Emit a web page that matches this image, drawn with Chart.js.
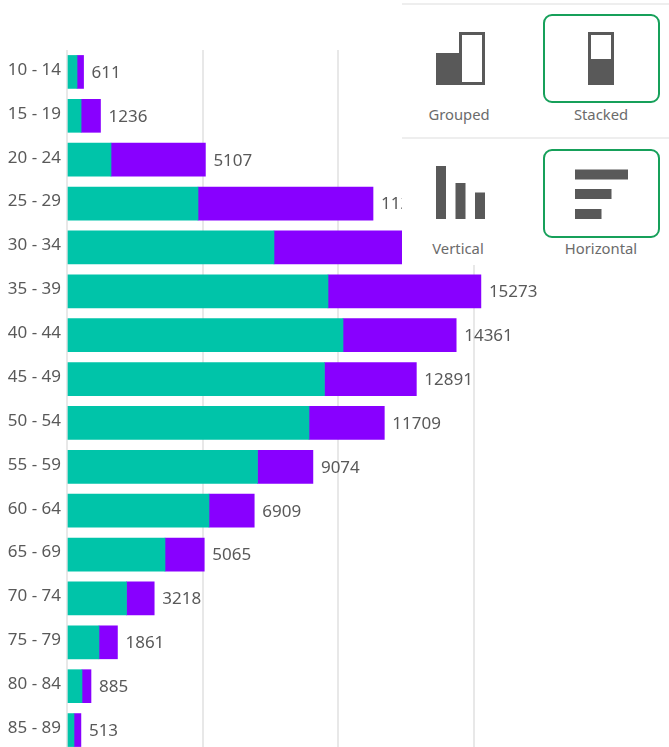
<!DOCTYPE html>
<html>
<head>
<meta charset="utf-8">
<script src="https://cdn.jsdelivr.net/npm/chart.js@4"></script>
<style>
  html, body { margin: 0; padding: 0; background: #fff; overflow: hidden; width: 669px; height: 747px; }
  #wrap { position: relative; width: 669px; height: 747px; overflow: hidden; }
  #bargraph { position: absolute; left: 0; top: 0; }
  #panel { position: absolute; left: 402px; top: 0; width: 267px; height: 265px; background: #fff; }
  #panel svg { position: absolute; left: 0; top: 0; }
  #panel text { font-family: "Noto Sans", sans-serif; font-size: 14.8px; fill: #6b6b6b; text-anchor: middle; }
</style>
</head>
<body>
<div id="wrap">
  <canvas id="bargraph" width="669" height="770"></canvas>
  <div id="panel">
    <svg width="267" height="265" viewBox="402 0 267 265">
      <rect x="402" y="3" width="267" height="2" fill="#eeeeee"/>
      <rect x="402" y="137" width="267" height="2" fill="#eeeeee"/>
      <rect x="544" y="15" width="115" height="87" rx="8" fill="none" stroke="#16a05a" stroke-width="2"/>
      <rect x="544" y="150" width="115" height="87" rx="8" fill="none" stroke="#16a05a" stroke-width="2"/>
      <!-- grouped -->
      <rect x="436" y="53" width="26" height="32" fill="#595959"/>
      <rect x="460.5" y="33.5" width="23" height="50" fill="none" stroke="#595959" stroke-width="3"/>
      <text x="459" y="120">Grouped</text>
      <!-- stacked -->
      <rect x="589.5" y="33.5" width="23" height="50" fill="none" stroke="#595959" stroke-width="3"/>
      <rect x="588" y="59" width="26" height="26" fill="#595959"/>
      <text x="601" y="120">Stacked</text>
      <!-- vertical -->
      <rect x="436" y="166" width="10" height="53" fill="#595959"/>
      <rect x="455.5" y="183" width="10" height="36" fill="#595959"/>
      <rect x="475" y="192.5" width="10" height="26.5" fill="#595959"/>
      <text x="458" y="254">Vertical</text>
      <!-- horizontal -->
      <rect x="575" y="169.5" width="53" height="10" fill="#595959"/>
      <rect x="575" y="189" width="36.5" height="10" fill="#595959"/>
      <rect x="575" y="209" width="26.5" height="10" fill="#595959"/>
      <text x="601" y="254">Horizontal</text>
    </svg>
  </div>
</div>
<script>
var ageGroups = ["10 - 14", "15 - 19", "20 - 24", "25 - 29", "30 - 34", "35 - 39", "40 - 44", "45 - 49",
  "50 - 54", "55 - 59", "60 - 64", "65 - 69", "70 - 74", "75 - 79", "80 - 84", "85 - 89"];
var greenValues = [370, 520, 1624, 4834, 7638, 9631, 10185, 9500, 8930, 7030, 5240, 3616, 2196, 1180, 553, 258];
var purpleValues = [241, 716, 3483, 6458, 6262, 5642, 4176, 3391, 2779, 2044, 1669, 1449, 1022, 681, 332, 255];
var totals = [611, 1236, 5107, 11292, 13900, 15273, 14361, 12891, 11709, 9074, 6909, 5065, 3218, 1861, 885, 513];

var labelFont = '17px "Noto Sans", sans-serif';

// totals next to the end of each stack
var totalLabels = {
  id: 'totalLabels',
  afterDatasetsDraw: function (chart) {
    var ctx = chart.ctx;
    var bars = chart.getDatasetMeta(1).data;
    ctx.save();
    ctx.font = labelFont;
    ctx.fillStyle = '#595959';
    ctx.textAlign = 'left';
    ctx.textBaseline = 'middle';
    bars.forEach(function (bar, i) {
      ctx.fillText(totals[i], bar.x + 8, bar.y + 1);
    });
    ctx.restore();
  }
};

var ctx = document.getElementById('bargraph').getContext('2d');
window.myBar = new Chart(ctx, {
  type: 'bar',
  data: {
    labels: ageGroups,
    datasets: [{
      label: "Green",
      backgroundColor: '#00c4a9',
      data: greenValues
    }, {
      label: "Purple",
      backgroundColor: '#8800ff',
      data: purpleValues
    }]
  },
  plugins: [totalLabels],
  options: {
    indexAxis: 'y',
    responsive: false,
    animation: false,
    layout: { padding: { top: 50, right: 60, bottom: 18, left: 0 } },
    datasets: { bar: { barThickness: 33 } },
    plugins: {
      legend: { display: false },
      tooltip: { enabled: false }
    },
    scales: {
      x: {
        stacked: true,
        min: 0,
        max: 20000,
        ticks: { display: false, stepSize: 5000 },
        border: { display: false },
        grid: {
          // no line at the right edge of the axis
          color: function (c) { return c.tick.value > 15000 ? 'rgba(0,0,0,0)' : '#e8e8e8'; },
          lineWidth: 2,
          drawTicks: false
        }
      },
      y: {
        stacked: true,
        afterFit: function (axis) { axis.width = 67; },
        ticks: { color: '#595959', font: { family: '"Noto Sans", sans-serif', size: 17 }, padding: 6, labelOffset: -2, autoSkip: false },
        border: { display: false },
        grid: { display: false, drawTicks: false }
      }
    }
  }
});
</script>
</body>
</html>
